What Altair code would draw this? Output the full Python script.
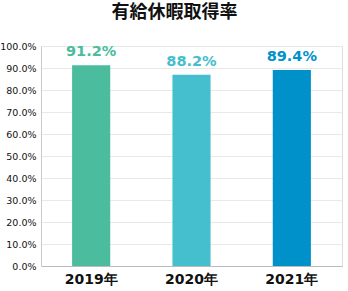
import altair as alt
import pandas as pd

years = ["2019年", "2020年", "2021年"]
bar_values = [0.913, 0.869, 0.891]
label_texts = ["91.2%", "88.2%", "89.4%"]
colors = ["#4BBC9E", "#45BECD", "#0091CB"]

df = pd.DataFrame({"year": years, "value": bar_values, "label": label_texts, "color": colors})

base = alt.Chart(df).encode(
    x=alt.X("year:N", sort=years, title=None,
            scale=alt.Scale(paddingInner=0.62, paddingOuter=0.31),
            axis=alt.Axis(labelAngle=0, labelFont="DejaVu Sans", labelFontWeight="bold",
                          labelFontSize=14, labelColor="#111111", ticks=False,
                          domainColor="#bbbbbb", labelPadding=6, grid=False)),
    y=alt.Y("value:Q", title=None,
            scale=alt.Scale(domain=[0, 1], nice=False, zero=True),
            axis=alt.Axis(format=".1%", values=[i / 10 for i in range(11)],
                          labelFont="DejaVu Sans", labelFontSize=9.5, labelColor="#111111",
                          ticks=False, labelPadding=5, domainColor="#cccccc",
                          gridColor="#e8e8e8")),
)

bars = base.mark_bar().encode(color=alt.Color("color:N", scale=None))
text = base.mark_text(dy=-13, font="DejaVu Sans", fontWeight="bold", fontSize=14.5,
                      baseline="middle").encode(text="label:N", color=alt.Color("color:N", scale=None))

chart = (bars + text).properties(
    width=301, height=220,
    autosize=alt.AutoSizeParams(type="none"),
    padding={"left": 41, "top": 46, "right": 6, "bottom": 25},
    title=alt.TitleParams("有給休暇取得率", font="Noto Sans CJK JP", fontSize=18,
                          fontWeight="bold", color="#111111", anchor="middle",
                          dx=-17, offset=19),
).configure_view(stroke=None).configure(background="white")

chart.save("out.html", embed_options={"renderer": "svg", "actions": False})
